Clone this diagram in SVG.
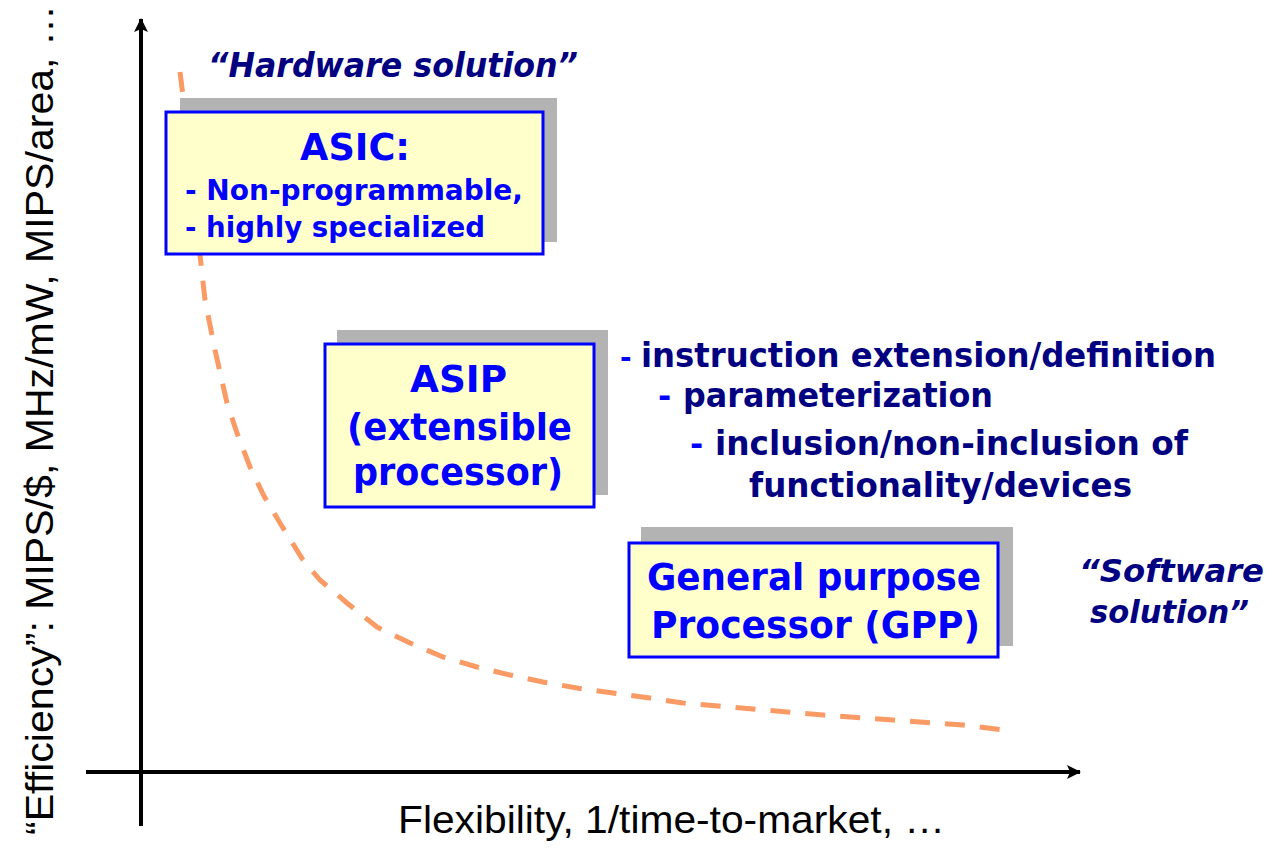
<svg xmlns="http://www.w3.org/2000/svg" width="1274" height="849" viewBox="0 0 1274 849">
<defs>
<marker id="arr" markerWidth="14" markerHeight="14" refX="13" refY="7" orient="auto" markerUnits="userSpaceOnUse">
<path d="M0,0 L14,7 L0,14 L3,7 Z" fill="#000"/>
</marker>
<style>
.axis{stroke:#000;stroke-width:4;fill:none}
.curve{stroke:#fa9a64;stroke-width:5;fill:none;stroke-dasharray:20 15;stroke-linejoin:round}
.shadow{fill:#b3b3b3}
.box{fill:#ffffcc;stroke:#0000ff;stroke-width:3}
.bt{font-family:"DejaVu Sans",Verdana,sans-serif;font-weight:bold;fill:#0000ff}
.nv{font-family:"DejaVu Sans",Verdana,sans-serif;font-weight:bold;fill:#000080}
.it{font-style:italic}
.ax{font-family:"Liberation Sans",Arial,sans-serif;fill:#000}
</style>
</defs>
<rect width="1274" height="849" fill="#fff"/>
<g id="curve">
<polyline class="curve" points="180,72 186,120 192,170 200,255 205,300 215,350 227,403 237,433 250,467 264,496 280,523 303,560 320,580 347,603 377,627 410,643 443,657 477,667 510,675 543,682 577,688 613,693 650,698 683,703 753,709 823,715 893,720 963,725 1012,731"/>
</g>
<g id="connectors">
<line class="axis" x1="141" y1="826" x2="141" y2="19" marker-end="url(#arr)"/>
<line class="axis" x1="86" y1="772" x2="1080" y2="772" marker-end="url(#arr)"/>
</g>
<g id="ylabel">
<text class="ax" font-size="39" transform="translate(53,835) rotate(-90)" textLength="830" lengthAdjust="spacingAndGlyphs">“Efficiency”: MIPS/$, MHz/mW, MIPS/area, …</text>
</g>
<g id="xlabel">
<text class="ax" font-size="39" x="398" y="833" textLength="547" lengthAdjust="spacingAndGlyphs">Flexibility, 1/time-to-market, …</text>
</g>
<g id="hw">
<text class="nv it" font-size="33" x="208" y="77" textLength="370" lengthAdjust="spacingAndGlyphs">“Hardware solution”</text>
</g>
<g id="asic">
<rect class="shadow" x="180" y="98" width="377" height="144"/>
<rect class="box" x="166" y="112" width="377" height="142"/>
<text class="bt" font-size="38" x="300" y="160" textLength="110" lengthAdjust="spacingAndGlyphs">ASIC:</text>
<text class="bt" font-size="29" x="185" y="200" textLength="338" lengthAdjust="spacingAndGlyphs">- Non-programmable,</text>
<text class="bt" font-size="29" x="185" y="237" textLength="300" lengthAdjust="spacingAndGlyphs">- highly specialized</text>
</g>
<g id="asip">
<rect class="shadow" x="337" y="330" width="271" height="165"/>
<rect class="box" x="325" y="344" width="269" height="163"/>
<text class="bt" font-size="38" x="410" y="392" textLength="97" lengthAdjust="spacingAndGlyphs">ASIP</text>
<text class="bt" font-size="38" x="347" y="440" textLength="225" lengthAdjust="spacingAndGlyphs">(extensible</text>
<text class="bt" font-size="38" x="353" y="485" textLength="210" lengthAdjust="spacingAndGlyphs">processor)</text>
</g>
<g id="features">
<text class="bt" font-size="28" x="620" y="367">-</text>
<text class="nv" font-size="33" x="641" y="367" textLength="575" lengthAdjust="spacingAndGlyphs">instruction extension/definition</text>
<text class="bt" font-size="32" x="658" y="407">-</text>
<text class="nv" font-size="33" x="683" y="407" textLength="310" lengthAdjust="spacingAndGlyphs">parameterization</text>
<text class="bt" font-size="32" x="690" y="455">-</text>
<text class="nv" font-size="33" x="715" y="455" textLength="473" lengthAdjust="spacingAndGlyphs">inclusion/non-inclusion of</text>
<text class="nv" font-size="33" x="749" y="497" textLength="383" lengthAdjust="spacingAndGlyphs">functionality/devices</text>
</g>
<g id="gpp">
<rect class="shadow" x="641" y="527" width="372" height="119"/>
<rect class="box" x="629" y="543" width="369" height="114"/>
<text class="bt" font-size="38" x="647" y="590" textLength="334" lengthAdjust="spacingAndGlyphs">General purpose</text>
<text class="bt" font-size="38" x="651" y="638" textLength="329" lengthAdjust="spacingAndGlyphs">Processor (GPP)</text>
</g>
<g id="sw">
<text class="nv it" font-size="32" x="1079" y="582" textLength="185" lengthAdjust="spacingAndGlyphs">“Software</text>
<text class="nv it" font-size="32" x="1090" y="623" textLength="159" lengthAdjust="spacingAndGlyphs">solution”</text>
</g>
</svg>
